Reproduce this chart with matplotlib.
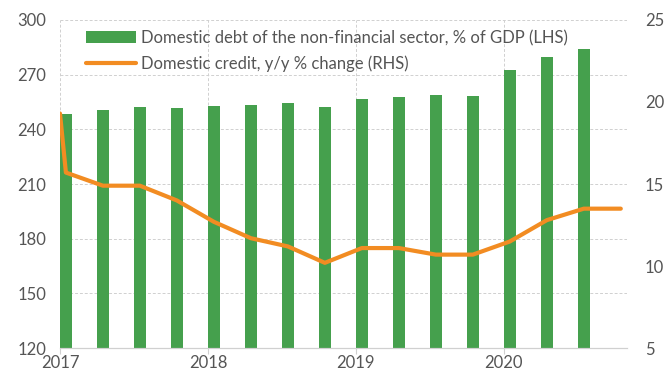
import matplotlib.pyplot as plt
import numpy as np

plt.rcParams['font.family'] = ['Lato', 'DejaVu Sans']

# quarterly data, 2017Q1 .. 2020Q3
debt_gdp = [248.4, 250.6, 252.3, 251.9, 252.8, 253.3, 254.4, 252.1,
            256.6, 257.7, 258.8, 258.3, 272.6, 279.7, 284.1]
# first value sits on the left edge, then one point per quarter (to 2020Q4)
credit_yy = [19.3, 15.7, 14.9, 14.9, 14.0, 12.7, 11.7, 11.2, 10.2,
             11.1, 11.1, 10.7, 10.7, 11.5, 12.8, 13.5, 13.5]
years = ['2017', '2018', '2019', '2020']

green = '#45A04D'
orange = '#F28C22'
text_col = '#555555'
grid_col = '#D0D0D0'
fs = 12

fig, ax = plt.subplots(figsize=(6.71, 3.76), dpi=100)
fig.subplots_adjust(left=0.0894, right=0.934, top=0.947, bottom=0.074)

bar_w = 0.32
xq = np.arange(len(debt_gdp))
ax.bar(xq, debt_gdp, width=bar_w, align='edge', color=green, zorder=2,
       label='Domestic debt of the non-financial sector, % of GDP (LHS)')
ax.set_ylim(120, 300)
ax.set_yticks(np.arange(120, 301, 30))
ax.set_xlim(0, 15.32)
ax.set_xticks([0, 4, 8, 12])
ax.set_xticklabels(years)

ax2 = ax.twinx()
xl = np.concatenate([[0], np.arange(len(credit_yy) - 1) + bar_w / 2])
ax2.plot(xl, credit_yy, color=orange, lw=3, solid_capstyle='round', zorder=3,
         label='Domestic credit, y/y % change (RHS)')
ax2.set_ylim(5, 25)
ax2.set_yticks([5, 10, 15, 20, 25])

ax.grid(True, color=grid_col, ls=(0, (3, 2)), lw=0.7, zorder=0)
ax.set_axisbelow(True)
for a in (ax, ax2):
    for s in ('left', 'right', 'top'):
        a.spines[s].set_visible(False)
    a.spines['bottom'].set_color(grid_col)
    a.tick_params(axis='y', length=0, labelsize=fs, labelcolor=text_col)
ax.tick_params(axis='y', pad=10)
ax.tick_params(axis='x', length=4, color=grid_col, labelsize=fs, labelcolor=text_col, pad=1)
ax2.tick_params(axis='y', pad=13)

h1, l1 = ax.get_legend_handles_labels()
h2, l2 = ax2.get_legend_handles_labels()
leg = ax2.legend(h1 + h2, l1 + l2, loc='upper left', bbox_to_anchor=(0.02, 1.015),
                 frameon=False, fontsize=fs, handlelength=3.0, handletextpad=0.3,
                 labelspacing=0.55)
for t in leg.get_texts():
    t.set_color(text_col)

plt.savefig('out.png', dpi=100)
